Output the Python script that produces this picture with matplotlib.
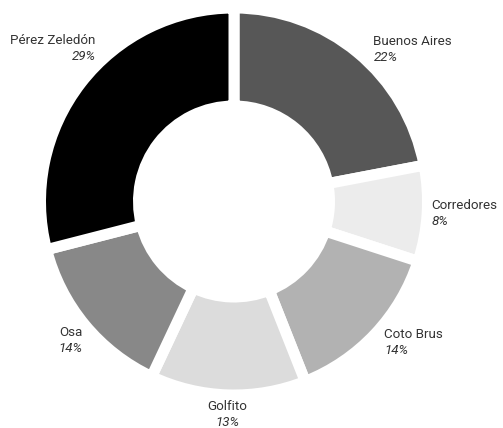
import numpy as np
import matplotlib
matplotlib.use("Agg")
import matplotlib.pyplot as plt

plt.rcParams['font.family'] = ['Roboto', 'DejaVu Sans']

categories = ["Buenos Aires", "Corredores", "Coto Brus", "Golfito", "Osa", "Pérez Zeledón"]
values = [22, 8, 14, 13, 14, 29]
colors = ["#575757", "#ececec", "#b2b2b2", "#dcdcdc", "#888888", "#000000"]
# small label placement nudges (angle in degrees, radius in pixels)
label_nudge = [-3, 0, 0, 0, 3, -10]
label_dr = [0, -8, 0, 7, 0, 0]

W, H = 503, 428
fig = plt.figure(figsize=(W / 100, H / 100), dpi=100)
cx, cy = 234, 201.5
gap_px = 11
R = 188 + gap_px / 2          # outer radius incl. half of the white edge
r_in = 101 - gap_px / 2       # inner radius incl. half of the white edge
ax = fig.add_axes([(cx - R) / W, (H - cy - R) / H, 2 * R / W, 2 * R / H])

wedges, _ = ax.pie(values, colors=colors, startangle=90, counterclock=False,
                   radius=1, wedgeprops=dict(width=(R - r_in) / R, edgecolor="white",
                                             linewidth=gap_px * 0.72))
ax.set_xlim(-1, 1)
ax.set_ylim(-1, 1)
ax.set_aspect("auto")
ax.axis("off")

total = sum(values)
cum = 0
for name, v, nud, dr in zip(categories, values, label_nudge, label_dr):
    mid = 90 - (cum + v / 2) / total * 360
    cum += v
    a = np.deg2rad(mid + nud)
    lab_r = (206 + dr) / R
    x, y = lab_r * np.cos(a), lab_r * np.sin(a)
    c = np.cos(a)
    ha = "left" if c > 0.15 else ("right" if c < -0.15 else "center")
    ax.annotate(name, (x, y), xytext=(0, 5.8), textcoords="offset points",
                ha=ha, va="center", fontsize=9.6, color="#333333",
                annotation_clip=False)
    ax.annotate(f"{v}%", (x, y), xytext=(0, -5.8), textcoords="offset points",
                ha=ha, va="center", fontsize=9.6, color="#333333",
                fontstyle="italic", annotation_clip=False)

fig.savefig("out.png", dpi=100)
